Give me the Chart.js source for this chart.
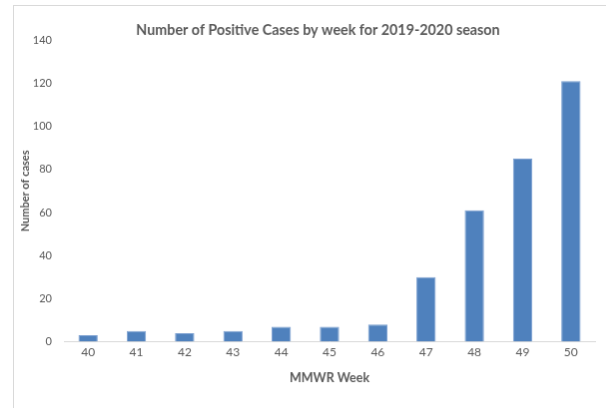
<!DOCTYPE html>
<html>
<head>
<meta charset="utf-8">
<script src="https://cdn.jsdelivr.net/npm/chart.js@4/dist/chart.umd.min.js"></script>
<style>
  html, body { margin: 0; padding: 0; background: #fff; overflow: hidden; width: 606px; height: 409px; }
  #chart { position: absolute; left: 13px; top: 5px; border-left: 1px solid #d9d9d9; border-top: 1px solid #d9d9d9; }
</style>
</head>
<body>
<canvas id="chart" width="609" height="403"></canvas>
<script>
const weeks = ['40', '41', '42', '43', '44', '45', '46', '47', '48', '49', '50']
const positiveCases = [3, 5, 4, 5, 7, 7, 8, 30, 61, 85, 121]
const yMin = 0
const yMax = 140
const yStep = 20

const textColor = '#595959'
const fontFamily = 'Lato, "Open Sans", "Liberation Sans", sans-serif'

const ctx = document.getElementById('chart').getContext('2d')
let chart = new Chart(ctx, {
  type: 'bar',
  data: {
    labels: weeks,
    datasets: [{
      label: 'Number of cases',
      data: positiveCases,
      backgroundColor: '#4f81bd',
      borderColor: '#7b9fd0',
      borderWidth: 1,
      categoryPercentage: 1,
      barPercentage: 0.4
    }]
  },
  options: {
    responsive: false,
    animation: false,
    layout: { padding: { left: 4, right: 4, top: 0, bottom: 19 } },
    plugins: {
      legend: { display: false },
      tooltip: { enabled: false },
      title: {
        display: true,
        text: 'Number of Positive Cases by week for 2019-2020 season',
        color: textColor,
        font: { family: fontFamily, size: 14.3, weight: 'bold' },
        padding: { top: 16, bottom: 1 }
      }
    },
    scales: {
      x: {
        grid: { display: false, drawTicks: false },
        border: { display: true, color: '#d9d9d9' },
        ticks: { color: textColor, padding: 3, font: { family: fontFamily, size: 12 } },
        title: {
          display: true,
          text: 'MMWR Week',
          color: textColor,
          font: { family: fontFamily, size: 12.5, weight: 'bold' },
          padding: { top: 8, bottom: 4 }
        }
      },
      y: {
        min: yMin,
        max: yMax,
        grid: { display: false, drawTicks: false },
        border: { display: false },
        ticks: { stepSize: yStep, color: textColor, padding: 12, font: { family: fontFamily, size: 11 } },
        title: {
          display: true,
          text: 'Number of cases',
          color: textColor,
          font: { family: fontFamily, size: 11, weight: 'bold' },
          padding: { top: 1, bottom: 2 }
        },
        afterFit: (scale) => { scale.width = 46 }
      },
      // empty right-hand margin so the title stays centred on the whole chart object
      yRight: {
        position: 'right',
        min: yMin,
        max: yMax,
        grid: { display: false, drawTicks: false },
        border: { display: false },
        ticks: { display: false },
        afterFit: (scale) => { scale.width = 23 }
      }
    }
  }
})
</script>
</body>
</html>
